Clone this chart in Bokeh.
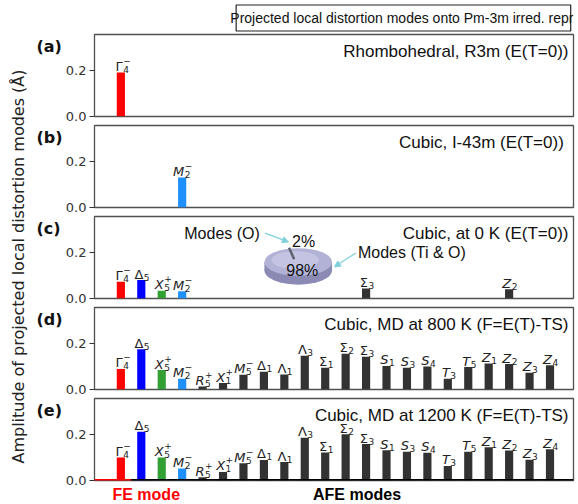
import math
from bokeh.plotting import figure
from bokeh.layouts import row, column
from bokeh.models import (Range1d, FixedTicker, Arrow, NormalHead,
                          ColumnDataSource, PrintfTickFormatter)
from bokeh.core.properties import value
from bokeh.embed import file_html
from bokeh.resources import INLINE

# ---------------- data ----------------
mode_names = ["Γ4−", "Δ5", "X5+", "M2−", "R5+", "X1+", "M5−", "Δ1", "Λ1", "Λ3",
              "Σ1", "Σ2", "Σ3", "S1", "S3", "S4", "T3", "T5", "Z1", "Z2", "Z3", "Z4"]
fe_modes = ["Γ4−"]
special_colors = {"Γ4−": "#ff0000", "Δ5": "#0000ff", "X5+": "#33a033", "M2−": "#1e90ff"}
other_color = "#333333"
italic_bases = "XMRSTZ"

a_modes = ["Γ4−"]
a_vals = [0.19]
b_modes = ["M2−"]
b_vals = [0.13]
c_modes = ["Γ4−", "Δ5", "X5+", "M2−", "Σ3", "Z2"]
c_vals = [0.072, 0.080, 0.034, 0.031, 0.043, 0.040]
d_vals = [0.089, 0.174, 0.084, 0.047, 0.013, 0.028, 0.064, 0.077, 0.065, 0.146, 0.094,
          0.155, 0.142, 0.102, 0.094, 0.100, 0.047, 0.097, 0.113, 0.110, 0.072, 0.105]
e_vals = [0.100, 0.211, 0.100, 0.052, 0.014, 0.037, 0.075, 0.089, 0.080, 0.185, 0.121,
          0.200, 0.158, 0.131, 0.124, 0.120, 0.063, 0.124, 0.144, 0.130, 0.090, 0.135]

panel_tags = ["(a)", "(b)", "(c)", "(d)", "(e)"]
panel_texts = ["Rhombohedral, R3m (E(T=0))", "Cubic, I-43m  (E(T=0))",
               "Cubic, at 0 K (E(T=0))", "Cubic, MD at 800 K (F=E(T)-TS)",
               "Cubic, MD at 1200 K (F=E(T)-TS)"]
pie_vals = [98, 2]
pie_texts = ["98%", "2%"]
pie_names = ["Modes (Ti & O)", "Modes (O)"]
y_ticks = [0.0, 0.2]
title_text = "Projected local distortion modes onto Pm-3m irred. repr."
y_label = "Amplitude of projected local distortion modes (Å)"

# ---------------- layout constants (page pixels) ----------------
X0, X1 = -1.29, 22.15
Y0, Y1 = 0.0, 0.355
TOTAL_W, TOTAL_H = 576, 503
LEFT_W = 62
PANEL_W = TOTAL_W - LEFT_W
FRAME_L, FRAME_R = 91, 573
BL, BR = FRAME_L - LEFT_W, TOTAL_W - FRAME_R
FRAME_W = FRAME_R - FRAME_L
FRAME_H = 82
FRAME_TOPS = [34, 125, 216, 307, 398]
TITLE_H = 33
BOT_BORDERS = [7, 7, 7, 7, 7]
PX = (X1 - X0) / FRAME_W
PY = (Y1 - Y0) / FRAME_H
DV = value("DejaVu Sans")
LS = value("Liberation Sans")
pie_col = "#7fd0da"


def blank(w, h, xr, yr, **kw):
    f = figure(width=w, height=h, x_range=xr, y_range=yr, x_axis_type=None,
               y_axis_type=None, output_backend="svg", toolbar_location=None, **kw)
    f.outline_line_color = None
    f.grid.visible = False
    return f


def make_panel(idx, fig_top):
    top_b = FRAME_TOPS[idx] - fig_top
    bot_b = BOT_BORDERS[idx]
    p = figure(width=PANEL_W, height=FRAME_H + top_b + bot_b,
               x_range=Range1d(X0, X1), y_range=Range1d(Y0, Y1),
               x_axis_type=None, output_backend="svg", toolbar_location=None,
               min_border_left=BL, min_border_right=BR,
               min_border_top=top_b, min_border_bottom=bot_b)
    p.grid.visible = False
    p.outline_line_color = "#505050"
    p.outline_line_width = 1.3
    ax = p.yaxis[0]
    ax.ticker = FixedTicker(ticks=y_ticks)
    ax.formatter = PrintfTickFormatter(format="%.1f")
    ax.axis_line_color = None
    ax.major_tick_in = 0
    ax.major_tick_out = 5
    ax.major_tick_line_color = "#333333"
    ax.minor_tick_line_color = None
    ax.major_label_text_font = "DejaVu Sans"
    ax.major_label_text_font_size = "13px"
    ax.major_label_text_color = "#333333"
    ax.major_label_standoff = 3
    p.text(x=[X1 - 5 * PX], y=[Y1 - 17 * PY], text=[panel_texts[idx]],
           text_font=LS, text_font_size="17px", text_baseline="middle",
           text_align="right", text_color="#111111")
    return p, FRAME_TOPS[idx] + FRAME_H + bot_b


def add_bars(p, names, vals):
    xs = [mode_names.index(n) for n in names]
    cols = [special_colors.get(n, other_color) for n in names]
    p.vbar(x=xs, top=vals, width=0.4, fill_color=cols, line_color=None)
    for italic in (False, True):
        sel = [i for i, n in enumerate(names) if (n[0] in italic_bases) == italic]
        if not sel:
            continue
        src = ColumnDataSource(dict(x=[xs[i] for i in sel], y=[vals[i] for i in sel],
                                    t=[names[i][0] for i in sel]))
        p.text(x="x", y="y", text="t", source=src, text_align="right",
               text_baseline="alphabetic", x_offset=2, y_offset=-6,
               text_font=DV, text_font_size="13px",
               text_font_style="italic" if italic else "normal", text_color="#222222")
    src = ColumnDataSource(dict(x=xs, y=vals, t=[n[1] for n in names]))
    p.text(x="x", y="y", text="t", source=src, text_align="left",
           text_baseline="alphabetic", x_offset=2.5, y_offset=-3,
           text_font=DV, text_font_size="9px", text_color="#222222")
    sup = [i for i, n in enumerate(names) if len(n) > 2]
    if sup:
        src = ColumnDataSource(dict(x=[xs[i] for i in sup], y=[vals[i] for i in sup],
                                    t=[names[i][2:] for i in sup]))
        p.text(x="x", y="y", text="t", source=src, text_align="left",
               text_baseline="alphabetic", x_offset=2.5, y_offset=-12,
               text_font=DV, text_font_size="9px", text_color="#222222")


# ---------------- left column: y label and panel tags (page-pixel space) ----------------
left = blank(LEFT_W, TOTAL_H, Range1d(0, LEFT_W), Range1d(TOTAL_H, 0), min_border=0)
left.text(x=[18], y=[266], text=[y_label], angle=math.pi / 2,
          text_align="center", text_baseline="middle", text_font=DV,
          text_font_size="16px", text_color="#222222")
left.text(x=[36] * 5, y=[t + 12 for t in FRAME_TOPS], text=panel_tags, text_align="left",
          text_baseline="middle", text_font=DV, text_font_style="bold",
          text_font_size="16px", text_color="#111111")

# ---------------- title (page-pixel space) ----------------
tfig = blank(PANEL_W, TITLE_H, Range1d(LEFT_W, TOTAL_W), Range1d(TITLE_H, 0), min_border=0)
box_l, box_r, box_t, box_b = 214, FRAME_R, 4.5, 30.5
tfig.quad(left=[box_l], right=[box_r], bottom=[box_b], top=[box_t],
          fill_color=None, line_color="#222222", line_width=1.2)
tfig.text(x=[(box_l + box_r) / 2], y=[(box_t + box_b) / 2], text=[title_text],
          text_align="center", text_baseline="middle", text_font=LS,
          text_font_size="14px", text_color="#111111")

# ---------------- panels ----------------
cur = TITLE_H
pa, cur = make_panel(0, cur)
add_bars(pa, a_modes, a_vals)
pb, cur = make_panel(1, cur)
add_bars(pb, b_modes, b_vals)
pc, cur = make_panel(2, cur)
add_bars(pc, c_modes, c_vals)
pd, cur = make_panel(3, cur)
add_bars(pd, mode_names, d_vals)
pe, cur = make_panel(4, cur)
add_bars(pe, mode_names, e_vals)

# pie chart in panel (c)
pcx, ptop, pside = 8.68, 0.158, 0.12
pw, ph = 3.31, 0.12
pc.ellipse(x=pcx, y=pside, width=pw, height=ph, fill_color="#8a8ab4", line_color=None)
pc.rect(x=pcx, y=(ptop + pside) / 2, width=pw, height=ptop - pside,
        fill_color="#8a8ab4", line_color=None)
pc.ellipse(x=pcx, y=ptop, width=pw, height=ph, fill_color="#b2b2d6", line_color=None)
pc.ellipse(x=pcx - 0.15, y=ptop + 0.008, width=pw * 0.7, height=ph * 0.65,
           fill_color="#c4c4e2", line_color=None)
pc.segment(x0=pcx - 0.45, y0=ptop + 0.062, x1=pcx - 0.2, y1=ptop + 0.012,
           line_color="#5b6270", line_width=2.5)
pc.text(x=[pcx + 0.2], y=[ptop - 0.035], text=[pie_texts[0]], text_align="center",
        text_baseline="middle", text_font=LS, text_font_size="16px", text_color="#111111")
pc.text(x=[pcx - 0.3], y=[0.248], text=[pie_texts[1]], text_align="left",
        text_baseline="middle", text_font=LS, text_font_size="16px", text_color="#111111")
pc.text(x=[6.8], y=[0.283], text=[pie_names[1]], text_align="right",
        text_baseline="middle", text_font=LS, text_font_size="16px", text_color="#111111")
pc.text(x=[11.6], y=[0.197], text=[pie_names[0]], text_align="left",
        text_baseline="middle", text_font=LS, text_font_size="16px", text_color="#111111")
pc.add_layout(Arrow(end=NormalHead(size=6, fill_color=pie_col, line_color=pie_col),
                    x_start=7.05, y_start=0.283, x_end=8.2, y_end=0.245,
                    line_color=pie_col, line_width=1.2))
pc.add_layout(Arrow(end=NormalHead(size=6, fill_color=pie_col, line_color=pie_col),
                    x_start=11.5, y_start=0.197, x_end=10.45, y_end=0.137,
                    line_color=pie_col, line_width=1.2))

# FE / AFE baseline in panel (e)
fe_split = len(fe_modes) - 0.5
pe.add_layout(Arrow(end=None, x_start=X0, y_start=0, x_end=fe_split, y_end=0,
                    line_color="#ff0000", line_width=3))
pe.add_layout(Arrow(end=None, x_start=fe_split, y_start=0, x_end=X1, y_end=0,
                    line_color="#000000", line_width=3))

# FE / AFE group names below panel (e): same x scale, frame spanning the whole figure
bot_h = TOTAL_H - cur
bfig = blank(PANEL_W, bot_h, Range1d(X0 - BL * PX, X1 + BR * PX), Range1d(bot_h, 0),
             min_border=0)
fe_center = sum(mode_names.index(m) for m in fe_modes) / len(fe_modes)
afe_idx = [i for i, m in enumerate(mode_names) if m not in fe_modes]
afe_center = sum(afe_idx) / len(afe_idx)
bfig.text(x=[fe_center, afe_center], y=[494 - cur] * 2, text=["FE mode", "AFE modes"],
          text_color=["#ff0000", "#000000"], text_align="center", text_baseline="middle",
          text_font=LS, text_font_style="bold", text_font_size="16px")

layout = row(left, column(tfig, pa, pb, pc, pd, pe, bfig))
open("out.html", "w").write(file_html(layout, INLINE))
